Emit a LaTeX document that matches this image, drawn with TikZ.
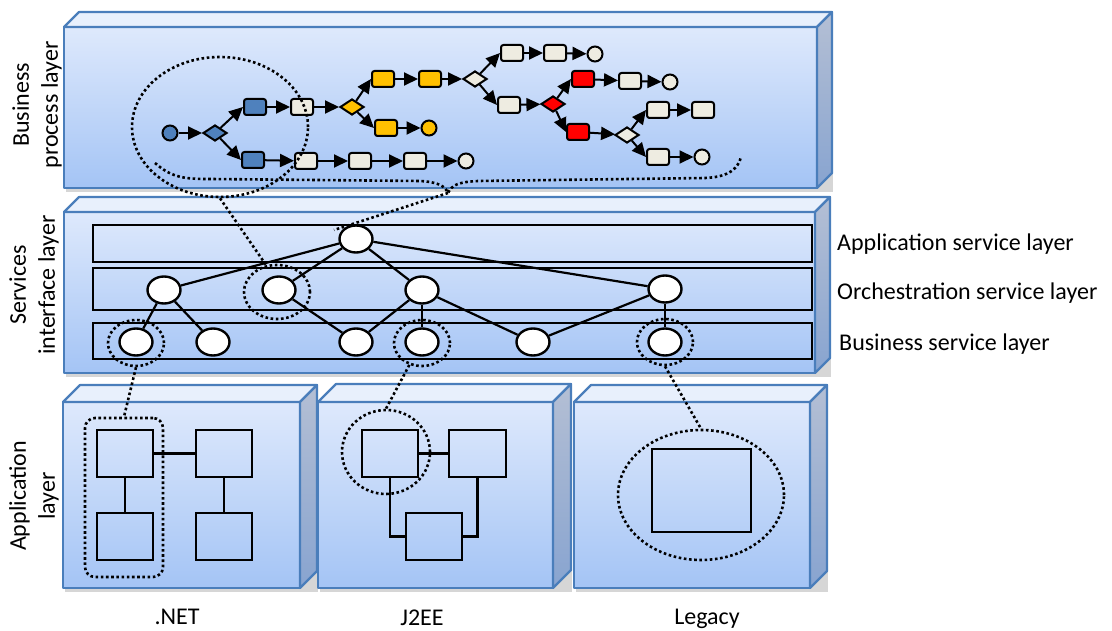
\documentclass[tikz,border=0pt]{standalone}
\usepackage{fontspec}
\setmainfont{Carlito}
\usetikzlibrary{shapes.geometric,arrows.meta,calc}
\definecolor{edgeblue}{RGB}{74,126,187}
\definecolor{facetop}{RGB}{222,233,252}
\definecolor{facebot}{RGB}{164,196,245}
\definecolor{toptop}{RGB}{232,240,252}
\definecolor{sidetop}{RGB}{180,191,212}
\definecolor{sidebot}{RGB}{136,164,208}
\definecolor{bpblue}{RGB}{79,129,189}
\definecolor{bpbeige}{RGB}{238,236,225}
\definecolor{bpyellow}{RGB}{255,192,0}
\definecolor{bpred}{RGB}{255,0,0}
\newcommand\mylayerbox[5]{%
  \fill[black,opacity=0.16] ({#1+2},{#2+3}) rectangle ({#3+#5+1},{#4+4});
  \shadedraw[top color=facetop,bottom color=facebot,draw=edgeblue,line width=2.2pt,line join=round] (#1,#2) rectangle (#3,#4);
  \filldraw[fill=toptop,draw=edgeblue,line width=2.2pt,line join=round] (#1,#2) -- ({#1+#5},{#2-#5}) -- ({#3+#5},{#2-#5}) -- (#3,#2) -- cycle;
  \shadedraw[top color=sidetop,bottom color=sidebot,draw=edgeblue,line width=2.2pt,line join=round] (#3,#2) -- ({#3+#5},{#2-#5}) -- ({#3+#5},{#4-#5}) -- (#3,#4) -- cycle;
}
\tikzset{
  lbl/.style={font=\fontsize{24}{29}\selectfont, text=black, inner sep=0pt, align=center},
  bpr/.style={draw=black, line width=2pt, rounded corners=2.5pt, minimum width=22pt, minimum height=16pt, inner sep=0pt},
  bpd/.style={diamond, draw=black, line width=2pt, minimum width=24pt, minimum height=16pt, inner sep=0pt},
  bpc/.style={circle, draw=black, line width=2pt, minimum size=15pt, inner sep=0pt},
  flow/.style={-{Triangle[length=14pt,width=13pt]}, line width=2pt},
  svc/.style={ellipse, draw=black, line width=2.4pt, fill=white, minimum width=33pt, minimum height=27pt, inner sep=0pt},
  svcedge/.style={line width=2.2pt},
  strip/.style={draw=black, line width=2.3pt},
  dotline/.style={line width=2.6pt, dash pattern=on 2.6pt off 2.6pt, black},
  dotell/.style={ellipse, draw, dotline, inner sep=0pt},
  appbox/.style={draw=black, line width=2.4pt, inner sep=0pt},
  appline/.style={draw=black, line width=2.4pt},
}
\begin{document}
\begin{tikzpicture}[x=1pt,y=-1pt]
\useasboundingbox (0,0) rectangle (1112,631);
% 3D boxes
\mylayerbox{64}{27}{817}{188}{15}
\mylayerbox{64}{212}{815}{373}{15}
\mylayerbox{63}{402}{300}{588}{17}
\mylayerbox{318}{402}{553}{588}{18}
\mylayerbox{574}{402}{810}{588}{17}
% layer labels
\node[lbl, rotate=90] (lbBP) at (37,105) {Business\\process layer};
\node[lbl, rotate=90] (lbSI) at (34,285) {Services\\interface layer};
\node[lbl, rotate=90] (lbAL) at (34,496) {Application\\layer};
\node[lbl, anchor=west] (lbAS) at (837,244) {Application service layer};
\node[lbl, anchor=west] (lbOS) at (837,293) {Orchestration service layer};
\node[lbl, anchor=west] (lbBS) at (839,344) {Business service layer};
\node[lbl] (lbNET) at (177,617) {.NET};
\node[lbl] (lbJ2) at (422,618) {J2EE};
\node[lbl] (lbLG) at (707,619) {Legacy};
% service strips
\draw[strip] (93,225) rectangle (812,262);
\draw[strip] (93,268) rectangle (812,310);
\draw[strip] (93,323) rectangle (812,359);
% business process flow
\node[bpc, fill=bpblue] (s0) at (170,133) {};
\node[bpd, fill=bpblue] (d0) at (215,133) {};
\node[bpr, fill=bpblue] (r1) at (255,107) {};
\node[bpr, fill=bpblue] (r2) at (253,160) {};
\node[bpr, fill=bpbeige] (r3) at (302,107) {};
\node[bpd, fill=bpyellow] (d1) at (352,107) {};
\node[bpr, fill=bpyellow] (r4) at (383,79) {};
\node[bpr, fill=bpyellow] (r5) at (430,79) {};
\node[bpd, fill=bpbeige] (d2) at (475,79) {};
\node[bpr, fill=bpyellow] (r6) at (386,128) {};
\node[bpc, fill=bpyellow] (e1) at (429,128) {};
\node[bpr, fill=bpbeige] (r7) at (306,161) {};
\node[bpr, fill=bpbeige] (r8) at (360,161) {};
\node[bpr, fill=bpbeige] (r9) at (415,161) {};
\node[bpc, fill=bpbeige] (e2) at (466,161) {};
\node[bpr, fill=bpbeige] (r10) at (512,53) {};
\node[bpr, fill=bpbeige] (r11) at (555,53) {};
\node[bpc, fill=bpbeige] (e3) at (595,54) {};
\node[bpr, fill=bpbeige] (r12) at (509,105) {};
\node[bpd, fill=bpred] (d3) at (553,104) {};
\node[bpr, fill=bpred] (r13) at (583,79) {};
\node[bpr, fill=bpbeige] (r14) at (630,81) {};
\node[bpc, fill=bpbeige] (e4) at (670,82) {};
\node[bpr, fill=bpred] (r15) at (578,132) {};
\node[bpd, fill=bpbeige] (d4) at (627,135) {};
\node[bpr, fill=bpbeige] (r16) at (658,110) {};
\node[bpr, fill=bpbeige] (r17) at (703,110) {};
\node[bpr, fill=bpbeige] (r18) at (658,157) {};
\node[bpc, fill=bpbeige] (e5) at (702,157) {};
\draw[flow] (s0) -- (d0);
\draw[flow] (d0) -- (r1.west);
\draw[flow] (d0) -- (r2.west);
\draw[flow] (r1) -- (r3);
\draw[flow] (r3) -- (d1);
\draw[flow] (d1) -- (r4.west);
\draw[flow] (d1) -- (r6.west);
\draw[flow] (r4) -- (r5);
\draw[flow] (r5) -- (d2);
\draw[flow] (r6) -- (e1);
\draw[flow] (r2) -- (r7);
\draw[flow] (r7) -- (r8);
\draw[flow] (r8) -- (r9);
\draw[flow] (r9) -- (e2);
\draw[flow] (d2) -- (r10.west);
\draw[flow] (d2) -- (r12.west);
\draw[flow] (r10) -- (r11);
\draw[flow] (r11) -- (e3);
\draw[flow] (r12) -- (d3);
\draw[flow] (d3) -- (r13.west);
\draw[flow] (d3) -- (r15.west);
\draw[flow] (r13) -- (r14);
\draw[flow] (r14) -- (e4);
\draw[flow] (r15) -- (d4);
\draw[flow] (d4) -- (r16.west);
\draw[flow] (d4) -- (r18.west);
\draw[flow] (r16) -- (r17);
\draw[flow] (r18) -- (e5);
% service graph
\node[svc] (A1) at (356,239) {};
\node[svc] (O1) at (164,290) {};
\node[svc] (O2) at (279,290) {};
\node[svc] (O3) at (422,290) {};
\node[svc] (O4) at (665,289) {};
\node[svc] (B1) at (136,342) {};
\node[svc] (B2) at (213,342) {};
\node[svc] (B3) at (356,342) {};
\node[svc] (B4) at (422,342) {};
\node[svc] (B5) at (533,342) {};
\node[svc] (B6) at (665,342) {};
\foreach \a/\b in {A1/O1,A1/O2,A1/O3,A1/O4,O1/B1,O1/B2,O2/B3,O3/B3,O3/B4,O3/B5,O4/B5,O4/B6}
  \draw[svcedge] (\a) -- (\b);
% application layer contents
\node[appbox, minimum width=56pt, minimum height=47pt] (n1) at (125,453.5) {};
\node[appbox, minimum width=56pt, minimum height=47pt] (n2) at (224,453.5) {};
\node[appbox, minimum width=56pt, minimum height=47pt] (n3) at (125,536.5) {};
\node[appbox, minimum width=56pt, minimum height=47pt] (n4) at (224,536.5) {};
\draw[appline] (n1) -- (n2);
\draw[appline] (n1) -- (n3);
\draw[appline] (n2) -- (n4);
\node[appbox, minimum width=56pt, minimum height=47pt] (j1) at (390,453.5) {};
\node[appbox, minimum width=57pt, minimum height=47pt] (j2) at (477.5,453.5) {};
\node[appbox, minimum width=56pt, minimum height=47pt] (j3) at (434,536.5) {};
\draw[appline] (j1) -- (j2);
\draw[appline] (j1.south) |- (j3.west);
\draw[appline] (j2.south) |- (j3.east);
\node[appbox, minimum width=99pt, minimum height=83pt] (l1) at (701.5,490.5) {};
% dotted groupings
\node[dotell, minimum width=176pt, minimum height=140pt] (bigE) at (220,127) {};
\node[dotell, minimum width=66pt, minimum height=54pt] (cO2) at (277,292) {};
\node[dotell, minimum width=56pt, minimum height=46pt] (cB1) at (136,343) {};
\node[dotell, minimum width=56pt, minimum height=46pt] (cB4) at (422,343) {};
\node[dotell, minimum width=56pt, minimum height=46pt] (cB6) at (665,342) {};
\node[dotline, draw, rounded corners=10pt, minimum width=78pt, minimum height=159pt, inner sep=0pt] (netg) at (124,497.5) {};
\node[dotell, minimum width=88pt, minimum height=84pt] (j2c) at (386,452) {};
\node[dotell, minimum width=166pt, minimum height=130pt] (legE) at (701,495) {};
% dotted connectors
\coordinate (brL) at (155,163);
\coordinate (brT) at (448,193);
\coordinate (brR) at (741,157);
\coordinate (brE) at (334,230);
\draw[dotline] (brL) .. controls (172,178) and (185,179) .. (210,179) -- (420,181) .. controls (438,182) and (445,186) .. (brT) .. controls (452,185) and (458,182) .. (478,181) -- (705,178) .. controls (730,177) and (738,168) .. (brR);
\draw[dotline] (brT) -- (brE);
\draw[dotline] (bigE.south) -- (cO2.112);
\draw[dotline] (cB1.south) -- (netg.north);
\draw[dotline] (cB4.240) -- (j2c.north);
\draw[dotline] (cB6.south) -- (legE.north);
\end{tikzpicture}
\end{document}
